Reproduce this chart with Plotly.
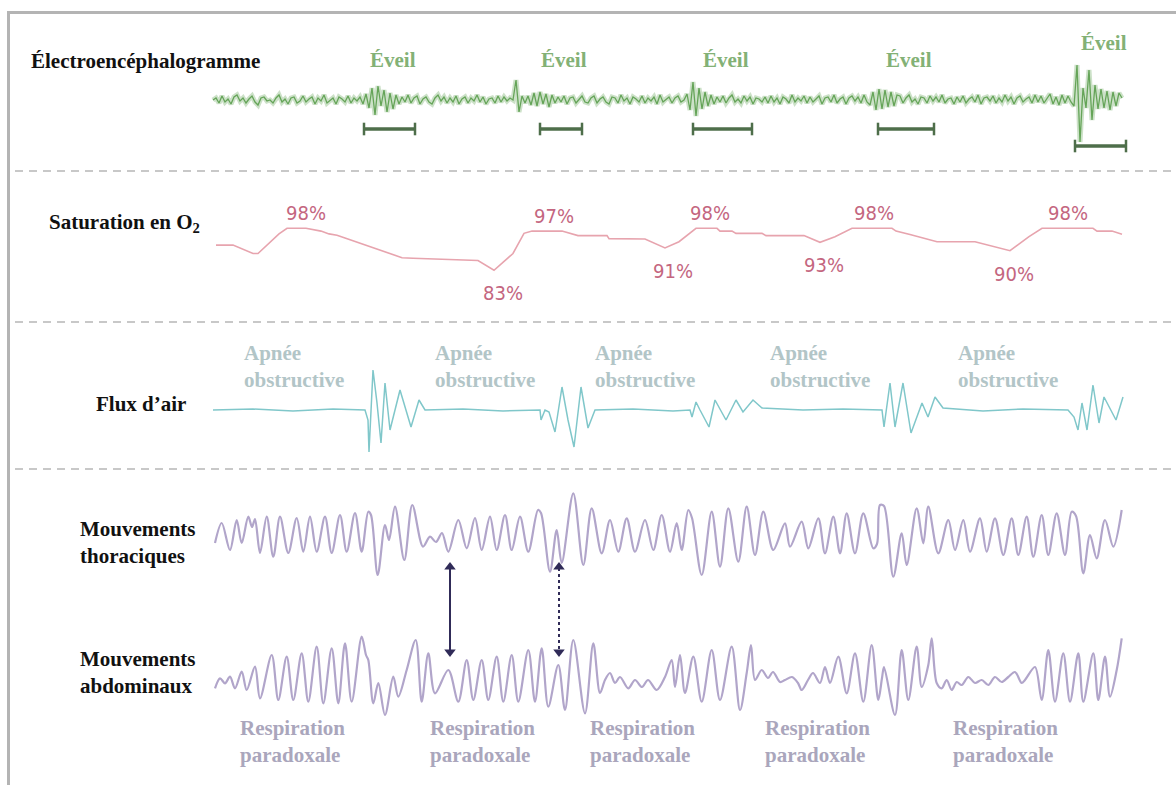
import plotly.graph_objects as go

# ------------------------------------------------------------------
# Polysomnographie : tracés d'un épisode d'apnées obstructives
# Temps en échantillons depuis le début de l'enregistrement.
# ------------------------------------------------------------------

# --- Électroencéphalogramme (µV), un point toutes les 3 unités de temps
eeg_uv = [
    0, 2, -3, 4, -2, 1, -4, 3, 5, -1, 2, -3, 1, 4, -2, -5, 2, 3, -1, 0,
    -3, 2, 5, -2, 1, -4, 2, 3, -3, -1, 4, -2, 1, 3, -4, 2, -1, 5, -3, 0,
    2, -4, 3, 1, -2, 4, -3, 2, -1, 3,
    -4, 6, -8, 12, -15, 14, -6, 10, -12, 7, -9, 5, -4,
    3, -2, 5, -3, 2, 4, -4, 1, 3, -2, -4, 2, 5, -1, 3, -3, 2, -2, 4, -4,
    1, 3, -3, 2, -1, 5, -2, 3, -4, 1, 2, -3, 4, -2, 3, -1, 2,
    0, 20, -12, 4, -3,
    4, -5, 7, -6, 8, -4, 6, -7, 5, -3, 3, -2, 4, -4, 2, 3, -3, 1, 4, -2,
    -3, 2, 4, -3, 1, 3, -2, -4, 3, 2, -3, 5, -1, 2, -4, 3, 1, -2, 4, -3,
    2, -1, 3, -4, 5, -2, 1, 3, -3, 2, 4, -2, 0,
    6, -10, 18, -16, 12, -9, 8, -6,
    5, -4, 3, -2, 4, -3, 2, 5, -2, 1, -3, 4, -1, 3, -4, 2, 1, -2, 3, -3,
    4, -2, 2, -4, 3, 1, -3, 5, -2, 2, -1, 4, -3, 3, -2, 1, 4, -4, 2, 3,
    -2, 5, -3, 1, 3, -4, 2, 4, -1, 3, -3, 5, -2,
    -5, 8, -10, 11, -9, 10, -7, 8, -6, 5,
    4, -3, 2, 5, -2, 1, -4, 3, 2, -3, 4, -1, 3, -2, 5, -3, 1, 2, -4, 3,
    -2, 4, -3, 1, 3, -2, 5, -4, 2, 3, -1, 4, -3, 2, -2, 5, -1, 3, -4, 2,
    4, -2, 1, 3, -3, 5, -2, 4, -3, 2, 6, -4, 3, -5, 5, -3, 4, -2,
    -6, 35, -42, 12, -8, 30, -20, 15,
    -9, 11, -8, 9, -10, 8, -6, 7, 2,
]
eeg_t = list(range(0, 3 * len(eeg_uv), 3))

# --- Micro-éveils (début, fin)
eveil_start = [151, 327, 480, 665, 862]
eveil_end = [202, 369, 539, 721, 913]

# --- Saturation en O2 (%)
spo2_t = [3, 20, 40, 45, 66, 74, 93, 100, 108, 116, 124, 132, 140, 150, 160,
          170, 180, 189, 200, 219, 265, 281, 300, 311, 319, 349, 360, 365,
          394, 396, 432, 452, 466, 481, 483, 504, 507, 519, 523, 549, 553,
          591, 607, 622, 637, 639, 679, 683, 697, 724, 762, 797, 816, 827,
          829, 880, 884, 899, 909]
spo2_pct = [92, 92, 89, 89, 96, 98, 98, 97.5, 97, 96, 95.5, 94.5, 93.5, 92.5,
            91, 90, 88.5, 87.5, 87.3, 87, 86.5, 83, 89, 96.2, 97, 97, 96,
            95.4, 95.4, 94.3, 94.2, 91, 93.2, 97.6, 98, 98, 97, 97, 96.2,
            96.2, 95.4, 95.4, 93, 95, 97.7, 98, 98, 97, 95.8, 93.2, 93.2, 90,
            95, 97.7, 98, 98, 97, 97, 95.9]
spo2_label_t = [93, 290, 341, 460, 497, 611, 661, 801, 855]
spo2_label_pct = [98, 83, 97, 91, 98, 93, 98, 90, 98]

# --- Flux d'air (unités arbitraires)
flow_t = [0, 40, 80, 120, 152,
          155, 156, 160, 164, 168, 172, 177, 187, 198, 206, 212,
          250, 290, 327,
          328, 332, 336, 342, 349, 355, 361, 368, 375, 382,
          420, 460, 477,
          479, 483, 487, 496, 502, 513, 523, 530, 540, 549,
          590, 630, 669,
          671, 677, 682, 690, 698, 709, 715, 722, 730,
          770, 810, 855,
          861, 865, 869, 874, 880, 886, 891, 903, 910]
flow_v = [0, 1, -1, 1, 0,
          -10, -42, 40, 7, -33, 27, -20, 20, -17, 10, 0,
          1, -1, 0,
          -10, 0, -2, -22, 23, -10, -37, 23, -18, 0,
          1, -1, 0,
          -7, 8, 0, -17, 10, -10, 10, -2, 10, 2,
          0, 1, 0,
          -17, 27, -17, 27, -23, 7, -7, 13, 2,
          -1, 1, 0,
          -7, -20, 7, -20, 25, -13, 13, -10, 13]

# --- Apnées obstructives (début, fin)
apnee_start = [0, 208, 378, 534, 724]
apnee_end = [154, 327, 477, 671, 857]

# --- Mouvements thoraciques (unités arbitraires)
thor_t = [2, 8.7, 17, 23.7, 28.7, 35.3, 39, 42, 47, 53.7, 60.3, 67, 75.3,
          83.7, 90.3, 97, 103.7, 112, 118.7, 127, 133.7, 142, 148.7, 155.3,
          158, 164.7, 172, 176, 182, 191.3, 199.3, 210, 217, 223, 229,
          235.3, 245.3, 253.7, 262, 268.7, 277, 283.7, 292, 298.7, 307,
          315.3, 325, 328, 337, 343.7, 348.7, 360.3, 370.3, 378.7, 388.7,
          397, 405.3, 413.7, 422, 432, 440.3, 448.7, 457, 463.7, 468.7,
          475.3, 479, 488.7, 498.7, 507, 515.3, 525.3, 533.7, 542, 550.3,
          560.3, 572, 577, 588.7, 595.3, 605.3, 612, 620.3, 627, 633.7, 642,
          650.3, 660.3, 664, 667, 671, 680.3, 688.7, 693.7, 703.7, 710.3,
          715.3, 725.3, 735.3, 742, 750.3, 757, 767, 773.7, 782, 790.3,
          798.7, 805.3, 813.7, 820.3, 828.7, 835.3, 843.7, 852, 858.7, 863,
          870.3, 877, 883.7, 892, 900.3, 908.7]
thor_v = [-8, 12, -15, 15, -8, 18.3, 8, 16, -18, 18.3, -21.7, 18.3, -18, 17,
          -16.7, 18.3, -16.7, 18.3, -18, 20, -16.7, 22, -16.7, 23.3, 20, -40,
          10, -5, 28.3, -25, 30, -11.7, -1.7, -7, 2, -16.7, 15, -13.3, 17,
          -15, 18.3, -15, 20, -15, 18.3, -16.7, 25, 22, -36.7, 5, -28, 41.7,
          -30, 26.7, -18.3, 15, -16.7, 16.7, -16.7, 15, -15, 20, -16.7, 12,
          -15, 25, 17, -40, 23.3, -31.7, 26.7, -26.7, 28.3, -20, 23.3, -15,
          11.7, -11.7, 13.3, -13.3, 16.7, -18.3, 18.3, -18.3, 21.7, -18.3,
          21.7, -13.3, -9, 30, 29, -41.7, 1.7, -30, 26.7, -8.3, 28.3, -18.3,
          15, -15, 15, -16.7, 16.7, -16.7, 16.7, -20, 16.7, -20, 18.3, -21.7,
          20, -20, 21.7, -20, 23.3, 19, -38.3, 0, -23.3, 15, -11.7, 25]

# --- Mouvements abdominaux (unités arbitraires)
abdo_t = [2, 7, 12, 17, 22, 28.7, 33.7, 42, 47, 58.7, 65.3, 73.7, 80.3, 88.7,
          95.3, 103.7, 110.3, 118.7, 125.3, 132, 138.7, 148.7, 153, 155.3,
          160.3, 165.3, 172, 180.3, 185.3, 193.7, 202.7, 208.7, 215.3, 222,
          235.3, 245.3, 253.7, 260.3, 268.7, 275.3, 283.7, 290.3, 298.7,
          305.3, 315.3, 322, 328.7, 335.3, 345.3, 352, 360.3, 372, 380.3,
          387, 392, 397, 402, 407, 415.3, 422, 429, 435, 443.7, 452, 458.7,
          462, 467, 472, 480.3, 488.7, 498.7, 507, 518.7, 527, 533.7, 538,
          542, 548.7, 555, 560, 567, 572, 579, 585, 588.7, 595, 600, 607,
          612, 617, 625.3, 633.7, 642, 650.3, 658.7, 665.3, 669, 671, 682,
          688.7, 695.3, 703.7, 708.7, 715.3, 718.7, 723.7, 728.7, 733.7,
          738.7, 743.7, 748.7, 755.3, 762, 768.7, 775.3, 782, 788.7, 795.3,
          802, 808.7, 812, 822, 828.7, 835.3, 842, 850.3, 857, 865.3, 870.3,
          880.3, 885.3, 892, 897, 903.7, 908.7]
abdo_v = [-8.3, 1.7, -3.3, 3.3, -8.3, 8.3, -10, 13.3, -18.3, 25, -20, 23.3,
          -20, 26.7, -21.7, 33.3, -23.3, 31.7, -23.3, 36.7, -21.7, 43.3, 25,
          20, -23.3, -3, -35, 3.3, -16.7, 10, 40, -21.7, 26.7, -13.3, 10,
          -21.7, 20, -20, 20, -20, 23.3, -21.7, 25, -21.7, 30, -21.7, 31.7,
          -26.7, 15, -30, 40, -33.3, 36.7, -13, 0, 7, -3, 3, -8.3, 0, -7, 0,
          -10, 3, 20, -7, 25, -13, 23.3, -21.7, 30, -20, 33.3, -30, 7, 35, 0,
          10, 2, 8, -2, 0, 3, -3, -10, 0, 7, -3, 13, -3, 23.3, -13.3, 26.7,
          -21.7, 35, -20, 2, 13, -35, 30, -20, 33.3, -7, 15, 41.7, -3, -8.3,
          0, -10, -2, -5, 3, -3, 0, -5, 3, -2, 3, 8, -3, 0, 13, -20, 30,
          -21.7, 26.7, -21.7, 26.7, -21.7, 26.7, -20, 23.3, -16.7, 10, 41.7]

# --- Instants de respiration paradoxale repérés par les flèches
fleche_pleine_t = 237
fleche_pointillee_t = 346

# ------------------------------------------------------------------
# Mise en forme
# ------------------------------------------------------------------
W, H = 1176, 785
SERIF = "Liberation Serif, Times New Roman, serif"
SANS_C = "DejaVu Sans Condensed, Noto Sans, sans-serif"

C_EEG = "#5a9e4c"
C_EVEIL_TXT = "#83b176"
C_EVEIL_BAR = "#4e6e4a"
C_SPO2 = "#e7a4ae"
C_SPO2_TXT = "#c4667f"
C_FLOW = "#80c7ca"
C_FLOW_TXT = "#b2c5c7"
C_RESP = "#b1a5ca"
C_RESP_TXT = "#aaa6bc"
C_ARROW = "#302b58"

fig = go.Figure()

# EEG : halo large et translucide puis tracé fin
fig.add_trace(go.Scatter(x=eeg_t, y=eeg_uv, mode="lines", yaxis="y",
                         line=dict(color=C_EEG, width=5), opacity=0.3,
                         hoverinfo="skip"))
fig.add_trace(go.Scatter(x=eeg_t, y=eeg_uv, mode="lines", yaxis="y",
                         line=dict(color=C_EEG, width=1.3), opacity=0.9,
                         hoverinfo="skip"))

# Barres des micro-éveils
for i, (a, b) in enumerate(zip(eveil_start, eveil_end)):
    last = i == len(eveil_start) - 1
    lvl = -46 if last else -29
    fig.add_trace(go.Scatter(
        x=[a, b], y=[lvl, lvl], mode="lines+markers", yaxis="y",
        line=dict(color=C_EVEIL_BAR, width=3.5),
        marker=dict(symbol="line-ns-open", size=9,
                    line=dict(color=C_EVEIL_BAR, width=2.5)),
        hoverinfo="skip"))
    fig.add_annotation(x=(a + b) / 2 + 3, y=57 if last else 40,
                       xref="x", yref="y", text="<b>Éveil</b>", showarrow=False,
                       font=dict(family=SERIF, size=21, color=C_EVEIL_TXT))

# SpO2
fig.add_trace(go.Scatter(x=spo2_t, y=spo2_pct, mode="lines", yaxis="y2",
                         line=dict(color=C_SPO2, width=1.6), hoverinfo="skip"))
for t, v in zip(spo2_label_t, spo2_label_pct):
    fig.add_annotation(x=t, y=v, xref="x", yref="y2", text=f"{v}%",
                       showarrow=False, yshift=15 if v >= 95 else -23,
                       font=dict(family=SANS_C, size=20, color=C_SPO2_TXT))

# Flux d'air
fig.add_trace(go.Scatter(x=flow_t, y=flow_v, mode="lines", yaxis="y3",
                         line=dict(color=C_FLOW, width=1.5), hoverinfo="skip"))
for a, b in zip(apnee_start, apnee_end):
    fig.add_annotation(x=(a + b) / 2 + 4, y=44, xref="x", yref="y3",
                       text="<b>Apnée<br>obstructive</b>", showarrow=False,
                       align="left",
                       font=dict(family=SERIF, size=21, color=C_FLOW_TXT))
    fig.add_annotation(x=(a + b) / 2 + 2, y=-61, xref="x", yref="y5",
                       text="<b>Respiration<br>paradoxale</b>", showarrow=False,
                       align="left",
                       font=dict(family=SERIF, size=21, color=C_RESP_TXT))

# Mouvements thoraciques et abdominaux
for tt, vv, ax in ((thor_t, thor_v, "y4"), (abdo_t, abdo_v, "y5")):
    fig.add_trace(go.Scatter(x=tt, y=vv, mode="lines", yaxis=ax,
                             line=dict(color=C_RESP, width=2.2, shape="spline",
                                       smoothing=0.9), hoverinfo="skip"))

# Flèches de respiration paradoxale (axe thoracique)
for t, dash in ((fleche_pleine_t, "solid"), (fleche_pointillee_t, "dot")):
    fig.add_trace(go.Scatter(
        x=[t, t], y=[-33, -116], mode="lines", yaxis="y4",
        line=dict(color=C_ARROW, width=2, dash=dash), hoverinfo="skip"))
    fig.add_trace(go.Scatter(
        x=[t, t], y=[-32, -117], mode="markers", yaxis="y4",
        marker=dict(symbol=["triangle-up", "triangle-down"], size=10,
                    color=C_ARROW), hoverinfo="skip"))

# Libellés des voies
row_labels = [
    ("<b>Électroencéphalogramme</b>", 29, 61),
    ("<b>Saturation en O<sub>2</sub></b>", 47, 223),
    ("<b>Flux d’air</b>", 94, 404),
    ("<b>Mouvements<br>thoraciques</b>", 78, 542),
    ("<b>Mouvements<br>abdominaux</b>", 78, 672),
]
for txt, px, py in row_labels:
    fig.add_annotation(x=px / W, y=1 - py / H, xref="paper", yref="paper",
                       text=txt, showarrow=False, xanchor="left",
                       yanchor="middle", align="left",
                       font=dict(family=SERIF, size=21, color="#111111"))

# Cadre et séparateurs
shapes = [dict(type="rect", xref="paper", yref="paper",
               x0=8.5 / W, x1=1.02, y0=-0.02, y1=1 - 12.5 / H,
               line=dict(color="#b4b4b4", width=3))]
for py in (171, 322, 469):
    shapes.append(dict(type="line", xref="paper", yref="paper",
                       x0=15 / W, x1=1, y0=1 - py / H, y1=1 - py / H,
                       line=dict(color="#c8c8c8", width=2, dash="8px,6px")))

hidden = dict(visible=False, showgrid=False, zeroline=False, fixedrange=True)
fig.update_layout(
    width=W, height=H, margin=dict(l=0, r=0, t=0, b=0),
    paper_bgcolor="white", plot_bgcolor="white", showlegend=False,
    shapes=shapes,
    xaxis=dict(range=[-213, 963], domain=[0, 1], **hidden),
    yaxis=dict(range=[-685, 100], domain=[0, 1], anchor="x", **hidden),
    yaxis2=dict(range=[98 - 556.7 / 2.8, 98 + 228.3 / 2.8], anchor="x",
                overlaying="y", **hidden),
    yaxis3=dict(range=[-375, 410], anchor="x", overlaying="y", **hidden),
    yaxis4=dict(range=[-250, 535], anchor="x", overlaying="y", **hidden),
    yaxis5=dict(range=[-105, 680], anchor="x", overlaying="y", **hidden),
)

fig.write_html("out.html")
